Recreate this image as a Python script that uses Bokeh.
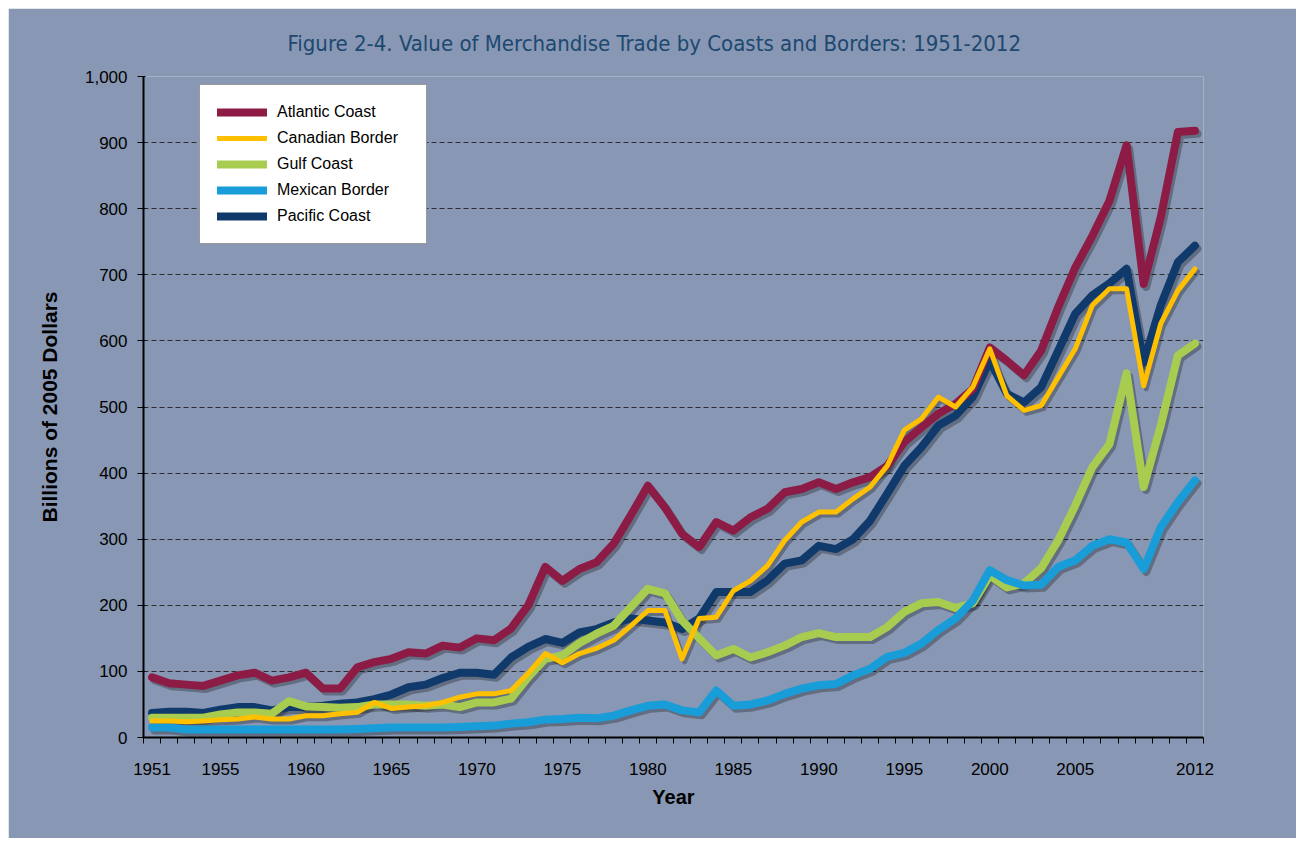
from bokeh.plotting import figure
from bokeh.models import Legend, LegendItem, FixedTicker, NumeralTickFormatter, Range1d, Spacer
from bokeh.layouts import column, row
from bokeh.embed import file_html
from bokeh.resources import INLINE

years = list(range(1951, 2013))
tick_years = [1951, 1955, 1960, 1965, 1970, 1975, 1980, 1985, 1990, 1995, 2000, 2005, 2012]
y_ticks = [0, 100, 200, 300, 400, 500, 600, 700, 800, 900, 1000]

atlantic = [91, 82, 80, 78, 86, 94, 98, 86, 91, 98, 74, 74, 106, 114, 119, 129, 127, 139, 136, 150,
            147, 165, 200, 258, 237, 255, 265, 293, 336, 381, 348, 308, 288, 326, 313, 333, 346, 371,
            376, 386, 376, 386, 394, 411, 447, 469, 490, 505, 527, 590, 570, 548, 585, 651, 711, 759,
            812, 896, 686, 787, 916, 918]
canadian = [25, 25, 24, 25, 27, 28, 31, 28, 28, 33, 33, 36, 38, 53, 44, 46, 48, 53, 61, 66,
            66, 71, 97, 127, 113, 127, 135, 147, 169, 192, 192, 119, 180, 182, 222, 237, 260, 298,
            326, 341, 341, 361, 379, 411, 465, 482, 515, 500, 530, 588, 517, 495, 502, 545, 588, 654,
            679, 679, 532, 626, 676, 709]
gulf = [30, 30, 30, 30, 35, 38, 38, 36, 55, 47, 46, 45, 46, 50, 50, 50, 48, 50, 46, 53,
        53, 59, 91, 119, 124, 143, 157, 169, 197, 225, 218, 177, 150, 124, 134, 121, 129, 139,
        152, 158, 152, 152, 152, 167, 190, 203, 205, 196, 203, 245, 227, 233, 256, 298, 351, 409,
        444, 551, 379, 472, 578, 596]
mexican = [15, 15, 12, 12, 12, 12, 12, 12, 12, 12, 12, 12, 13, 14, 15, 15, 15, 15, 16, 17,
           18, 21, 23, 27, 28, 30, 29, 33, 41, 48, 50, 41, 38, 71, 48, 50, 56, 66,
           74, 79, 81, 94, 104, 122, 128, 142, 163, 180, 207, 253, 238, 230, 231, 258, 268, 290,
           300, 295, 255, 318, 356, 389]
pacific = [37, 39, 39, 37, 42, 46, 46, 41, 46, 46, 48, 51, 53, 58, 65, 76, 80, 90, 98, 98,
           95, 121, 137, 149, 143, 159, 164, 174, 180, 177, 174, 164, 180, 220, 220, 220, 238, 263,
           268, 290, 285, 300, 328, 369, 411, 439, 472, 487, 515, 570, 520, 507, 530, 585, 641, 669,
           687, 709, 567, 654, 719, 744]

series_names = ["Atlantic Coast", "Canadian Border", "Gulf Coast", "Mexican Border", "Pacific Coast"]

BG = "#8897B3"
colors = {"Atlantic Coast": "#8C1C45", "Canadian Border": "#FFC000", "Gulf Coast": "#A8CC50",
          "Mexican Border": "#189DD9", "Pacific Coast": "#0F3A6B"}
widths = {"Atlantic Coast": 8, "Canadian Border": 5, "Gulf Coast": 8,
          "Mexican Border": 8, "Pacific Coast": 8}
data = {"Atlantic Coast": atlantic, "Canadian Border": canadian, "Gulf Coast": gulf,
        "Mexican Border": mexican, "Pacific Coast": pacific}

p = figure(frame_width=1060, frame_height=661,
           min_border_left=135, min_border_right=93, min_border_top=68, min_border_bottom=101,
           x_range=Range1d(years[0] - 0.5, years[-1] + 0.5), y_range=Range1d(0, 1000),
           output_backend="svg", toolbar_location=None,
           title="Figure 2-4. Value of Merchandise Trade by Coasts and Borders: 1951-2012")

p.background_fill_color = BG
p.border_fill_color = BG
p.outline_line_color = None

p.title.text_font = "'DejaVu Sans Condensed', 'Liberation Sans', sans-serif"
p.title.text_font_size = "22px"
p.title.text_font_style = "normal"
p.title.text_color = "#1D4870"
p.title.align = "left"
p.title.offset = 144
p.title.standoff = 41

# grids
p.xgrid.grid_line_color = None
p.ygrid.grid_line_color = "#2E2E2E"
p.ygrid.grid_line_dash = "5 3"
p.ygrid.grid_line_width = 1

# y axis
p.yaxis.ticker = FixedTicker(ticks=y_ticks)
p.yaxis.formatter = NumeralTickFormatter(format="0,0")
p.yaxis.axis_line_color = "black"
p.yaxis.axis_line_width = 2
p.yaxis.major_tick_line_color = "black"
p.yaxis.major_tick_out = 6
p.yaxis.major_tick_in = 2
p.yaxis.minor_tick_line_color = None
p.yaxis.major_label_text_font = "Liberation Sans"
p.yaxis.major_label_text_font_size = "17px"
p.yaxis.major_label_text_color = "black"
p.yaxis.major_label_standoff = 10
p.yaxis.axis_label = "Billions of 2005 Dollars"
p.yaxis.axis_label_text_font = "Liberation Sans"
p.yaxis.axis_label_text_font_size = "21px"
p.yaxis.axis_label_text_font_style = "bold"
p.yaxis.axis_label_text_color = "black"
p.yaxis.axis_label_standoff = 21

# x axis
boundaries = [y - 0.5 for y in years] + [years[-1] + 0.5]
p.xaxis.ticker = FixedTicker(ticks=tick_years, minor_ticks=boundaries)
p.xaxis.major_label_overrides = {t: str(t) for t in tick_years}
p.xaxis.axis_line_color = "black"
p.xaxis.axis_line_width = 2
p.xaxis.major_tick_line_color = None
p.xaxis.major_tick_out = 0
p.xaxis.major_tick_in = 0
p.xaxis.minor_tick_line_color = "black"
p.xaxis.minor_tick_line_width = 1
p.xaxis.minor_tick_out = 6
p.xaxis.minor_tick_in = 0
p.xaxis.major_label_text_font = "Liberation Sans"
p.xaxis.major_label_text_font_size = "17px"
p.xaxis.major_label_text_color = "black"
p.xaxis.major_label_standoff = 19
p.xaxis.axis_label = "Year"
p.xaxis.axis_label_text_font = "Liberation Sans"
p.xaxis.axis_label_text_font_size = "20px"
p.xaxis.axis_label_text_font_style = "bold"
p.xaxis.axis_label_text_color = "black"
p.xaxis.axis_label_standoff = 8

draw_order = ["Pacific Coast", "Atlantic Coast", "Gulf Coast", "Mexican Border", "Canadian Border"]

# drop shadows
for name in draw_order:
    sx = [x + 0.15 for x in years]
    sy = [v - 4.5 for v in data[name]]
    p.line(sx, sy, line_color="black", line_alpha=0.28, line_width=widths[name],
           line_join="round", line_cap="round")

renderers = {}
for name in draw_order:
    renderers[name] = p.line(years, data[name], line_color=colors[name], line_width=widths[name],
                             line_join="round", line_cap="round")

legend = Legend(items=[LegendItem(label=n, renderers=[renderers[n]]) for n in series_names],
                location=(56, 493))
legend.background_fill_color = "white"
legend.background_fill_alpha = 1.0
legend.border_line_color = "#333333"
legend.border_line_width = 1
legend.padding = 17
legend.spacing = 6
legend.margin = 0
legend.label_height = 20
legend.label_width = 132
legend.glyph_height = 20
legend.glyph_width = 50
legend.label_standoff = 10
legend.label_text_font = "Liberation Sans"
legend.label_text_font_size = "16px"
legend.label_text_color = "black"
p.add_layout(legend)

layout = column(Spacer(height=8), row(Spacer(width=8), p))
open("out.html", "w").write(file_html(layout, INLINE))
